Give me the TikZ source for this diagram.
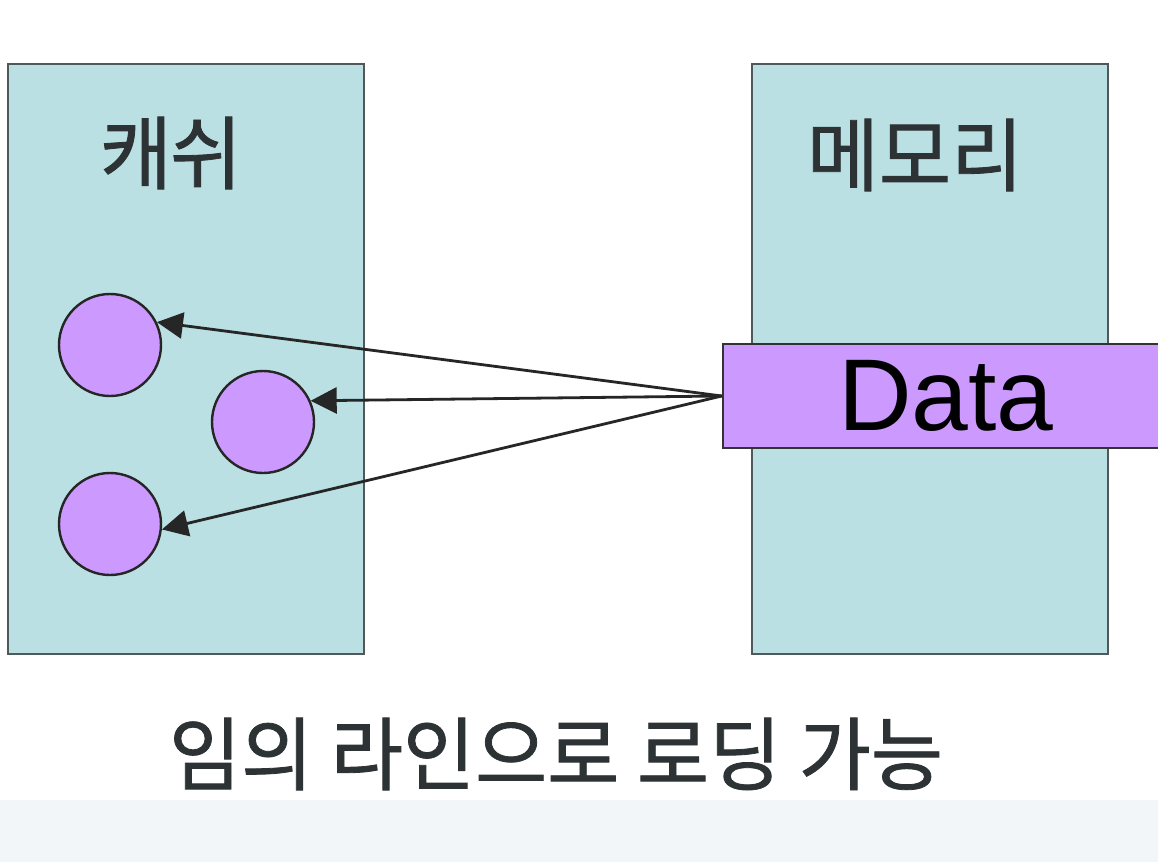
\documentclass[tikz,border=0pt]{standalone}
\usepackage{fontspec}
\setmainfont{Liberation Sans}
\newfontfamily\kr[FakeStretch=0.98,FakeBold=1]{Noto Sans CJK KR}
\usetikzlibrary{arrows.meta}
\definecolor{boxfill}{RGB}{186,224,227}
\definecolor{boxline}{RGB}{80,88,90}
\definecolor{violetfill}{RGB}{204,153,255}
\definecolor{bandfill}{RGB}{243,246,249}
\definecolor{txt}{RGB}{45,50,52}
\tikzset{
  memblock/.style={draw=boxline, fill=boxfill, line width=1.3pt, minimum width=178pt, minimum height=295pt, inner sep=0pt},
  databox/.style={draw=black!80, fill=violetfill, line width=1.3pt, minimum width=219pt, minimum height=52pt, inner sep=0pt, font=\fontsize{51}{54}\selectfont},
  line/.style={draw=black!85, fill=violetfill, line width=1.2pt, circle, minimum size=51pt, inner sep=0pt},
  title/.style={text=txt, inner sep=0pt, font=\kr\fontsize{40}{44}\selectfont},
  loadarrow/.style={draw=black!85, line width=1.4pt, -{Triangle[length=13pt,width=13pt]}}
}
\begin{document}
\begin{tikzpicture}[x=0.5pt,y=-0.5pt]
\useasboundingbox (0,0) rectangle (1158,862);
\fill[white] (0,0) rectangle (1158,862);
\fill[bandfill] (0,800) rectangle (1158,862);
\node[memblock] (cache) at (186,359) {};
\node[memblock] (mem) at (930,359) {};
\node[title] (cachelbl) at (171,153) {캐\kern-1pt 쉬};
\node[title] (memlbl) at (915,155) {메모리};
\node[databox] (data) at (942,396) {\hspace*{4pt}Data};
\node[line] (c1) at (110,345) {};
\node[line] (c2) at (263,422) {};
\node[line] (c3) at (110,524) {};
\draw[loadarrow] (data.west) -- (c1.26);
\draw[loadarrow] (data.west) -- (c2.24);
\draw[loadarrow] (data.west) -- (c3.-6);
\node[title] (caption) at (556,754) {임의 라인으로 로딩 가능};
\end{tikzpicture}
\end{document}
